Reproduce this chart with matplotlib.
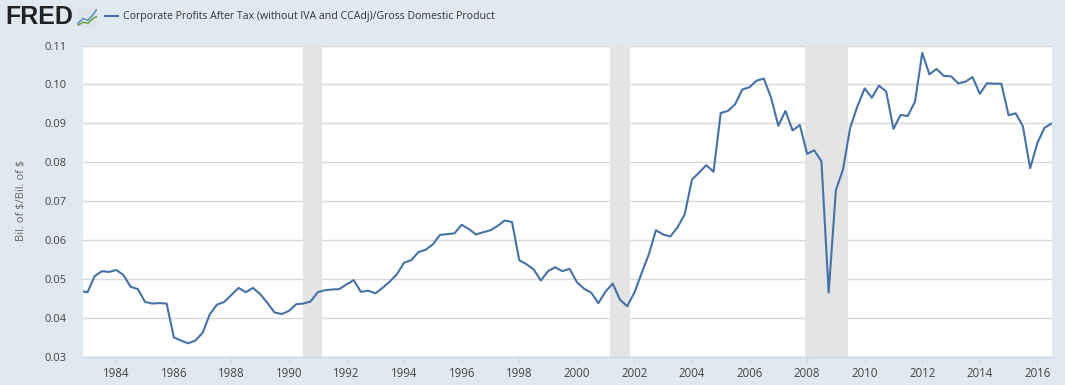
import matplotlib
matplotlib.use("Agg")
import matplotlib.pyplot as plt
import pandas as pd
import numpy as np

# ---------------- data ----------------
first_quarter = "1982Q4"
last_quarter = "2016Q3"
profit_share = [
    0.0470,
    0.0467, 0.0508, 0.0521, 0.0519,   # 1983
    0.0524, 0.0511, 0.0481, 0.0475,   # 1984
    0.0442, 0.0438, 0.0439, 0.0438,   # 1985
    0.0351, 0.0343, 0.0336, 0.0343,   # 1986
    0.0363, 0.0410, 0.0435, 0.0442,   # 1987
    0.0460, 0.0478, 0.0467, 0.0478,   # 1988
    0.0462, 0.0440, 0.0415, 0.0411,   # 1989
    0.0419, 0.0436, 0.0438, 0.0443,   # 1990
    0.0467, 0.0472, 0.0474, 0.0475,   # 1991
    0.0487, 0.0498, 0.0468, 0.0471,   # 1992
    0.0464, 0.0478, 0.0494, 0.0513,   # 1993
    0.0543, 0.0549, 0.0570, 0.0576,   # 1994
    0.0590, 0.0614, 0.0616, 0.0618,   # 1995
    0.0640, 0.0629, 0.0615, 0.0621,   # 1996
    0.0626, 0.0637, 0.0651, 0.0647,   # 1997
    0.0549, 0.0539, 0.0526, 0.0497,   # 1998
    0.0521, 0.0531, 0.0521, 0.0527,   # 1999
    0.0493, 0.0476, 0.0466, 0.0439,   # 2000
    0.0469, 0.0489, 0.0448, 0.0431,   # 2001
    0.0466, 0.0515, 0.0563, 0.0626,   # 2002
    0.0615, 0.0610, 0.0633, 0.0667,   # 2003
    0.0756, 0.0774, 0.0793, 0.0776,   # 2004
    0.0927, 0.0932, 0.0949, 0.0987,   # 2005
    0.0993, 0.1010, 0.1015, 0.0966,   # 2006
    0.0894, 0.0932, 0.0882, 0.0896,   # 2007
    0.0822, 0.0831, 0.0803, 0.0466,   # 2008
    0.0729, 0.0782, 0.0889, 0.0944,   # 2009
    0.0990, 0.0966, 0.0997, 0.0982,   # 2010
    0.0886, 0.0922, 0.0919, 0.0956,   # 2011
    0.1081, 0.1026, 0.1040, 0.1022,   # 2012
    0.1021, 0.1003, 0.1007, 0.1019,   # 2013
    0.0976, 0.1003, 0.1002, 0.1002,   # 2014
    0.0921, 0.0926, 0.0893, 0.0785,   # 2015
    0.0850, 0.0889, 0.0900,           # 2016
]
recession_starts = ["1990-07-01", "2001-03-01", "2007-12-01"]
recession_ends = ["1991-03-01", "2001-11-01", "2009-06-01"]
view_start = "1982-11-01"
y_ticks = [0.03, 0.04, 0.05, 0.06, 0.07, 0.08, 0.09, 0.10, 0.11]
x_tick_years = list(range(1984, 2017, 2))
series_title = "Corporate Profits After Tax (without IVA and CCAdj)/Gross Domestic Product"
y_label = "Bil. of \\$/Bil. of \\$"


def decimal_year(ts):
    ts = pd.Timestamp(ts)
    days = 366 if ts.is_leap_year else 365
    return ts.year + (ts.dayofyear - 1) / days


quarters = pd.period_range(first_quarter, last_quarter, freq="Q")
x = np.array([decimal_year(q.start_time) for q in quarters])
y = np.array(profit_share)

# ---------------- style ----------------
plt.rcParams["font.family"] = ["Open Sans", "DejaVu Sans"]
BG = "#e1e9f0"
LINE = "#4572a7"
TEXT = "#444444"

fig = plt.figure(figsize=(10.65, 3.85), dpi=100, facecolor=BG)
W, H = 1065, 385
left, right, top, bottom = 82.7, 1051.7, 45.5, 357.3
ax = fig.add_axes([left / W, (H - bottom) / H, (right - left) / W, (bottom - top) / H])
ax.set_facecolor("white")

for s, e in zip(recession_starts, recession_ends):
    ax.axvspan(decimal_year(s), decimal_year(e), color="#e4e4e4", lw=0, zorder=1)

ax.plot(x, y, color=LINE, lw=1.5, zorder=3, solid_joinstyle="round")

ax.set_xlim(decimal_year(view_start), x[-1])
ax.set_ylim(y_ticks[0], y_ticks[-1])
ax.set_yticks(y_ticks)
ax.set_yticklabels([f"{v:.2f}" for v in y_ticks])
ax.set_xticks(x_tick_years)
ax.set_xticklabels([str(v) for v in x_tick_years])

ax.grid(axis="y", color="#d8d8d8", lw=1.0, zorder=0)
ax.set_axisbelow(True)
for sp in ["top", "left", "right"]:
    ax.spines[sp].set_visible(False)
ax.spines["bottom"].set_color("#ccd6eb")
ax.spines["bottom"].set_linewidth(1.0)
ax.spines["bottom"].set_zorder(4)

ax.tick_params(axis="y", length=0, pad=11.5, labelsize=8, labelcolor=TEXT)
ax.tick_params(axis="x", length=4.5, width=0.8, color="#ccd6eb", pad=2.5,
               labelsize=8.3, labelcolor=TEXT)

fig.text(22 / W, 1 - 200 / H, y_label, rotation=90, ha="center", va="center",
         fontsize=8, color="#666666")

# ---------------- header ----------------
fig.text(5 / W, 1 - 17.5 / H, "FRED", fontsize=18, fontweight="bold",
         family=["Liberation Sans", "DejaVu Sans"], color="#222222",
         ha="left", va="center")
icon = fig.add_axes([77 / W, 1 - 27 / H, 20 / W, 19 / H])
icon.set_facecolor("#dde3e8")
icon.plot([0.05, 0.3, 0.55, 0.8, 0.97], [0.2, 0.45, 0.35, 0.65, 0.9], color="#4a8bc4", lw=1)
icon.plot([0.05, 0.3, 0.55, 0.8, 0.97], [0.1, 0.25, 0.2, 0.45, 0.55], color="#5aa02c", lw=1)
icon.set_xlim(0, 1)
icon.set_ylim(0, 1)
icon.set_xticks([])
icon.set_yticks([])
for sp in icon.spines.values():
    sp.set_visible(False)

fig.add_artist(plt.Line2D([105 / W, 118 / W], [1 - 15.7 / H, 1 - 15.7 / H],
                          color=LINE, lw=1.5, transform=fig.transFigure))
fig.text(123 / W, 1 - 16 / H, series_title, fontsize=7.6, color="#333333",
         ha="left", va="center")

fig.savefig("out.png", dpi=100, facecolor=BG)
